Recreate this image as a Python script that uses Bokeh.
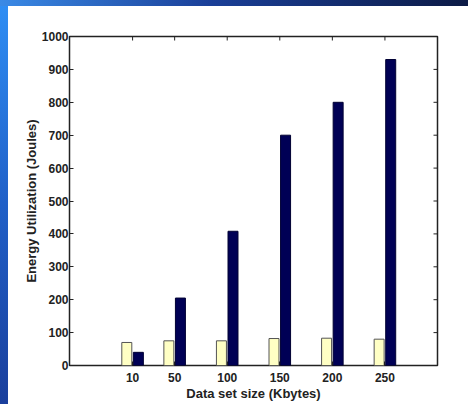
import math
from bokeh.plotting import figure
from bokeh.models import ColumnDataSource, FixedTicker, Range1d
from bokeh.transform import dodge
from bokeh.embed import file_html
from bokeh.resources import INLINE

sizes = [10, 50, 100, 150, 200, 250]
series_a = [70, 75, 75, 82, 83, 80]
series_b = [40, 205, 408, 700, 800, 930]
y_ticks = [0, 100, 200, 300, 400, 500, 600, 700, 800, 900, 1000]

src = ColumnDataSource(dict(x=sizes, a=series_a, b=series_b))

xr = Range1d(-50, 300)
yr = Range1d(0, 1000)
p = figure(width=468, height=404, output_backend="svg", toolbar_location=None,
           x_range=xr, y_range=yr,
           min_border_left=69, min_border_right=31, min_border_top=36, min_border_bottom=39)
p.frame_width = 368
p.frame_height = 329
p.background_fill_color = "white"
p.border_fill_color = None
p.styles = {
    "background": "linear-gradient(90deg, #3a8ae6 0%, #1a3f98 45%, #0c1a45 100%) left top / 100% 6px no-repeat, "
                  "linear-gradient(180deg, #2f8ff5 0%, #2060c8 50%, #1a3f9c 100%) left top / 8px 100% no-repeat, #ffffff"
}
p.outline_line_color = "#222222"
p.outline_line_width = 1.5
p.xgrid.visible = False
p.ygrid.visible = False

p.vbar(x=dodge("x", -5.5, range=p.x_range), top="a", width=9.5, bottom=0, source=src,
       fill_color="#FFFFC4", line_color="#555555", line_width=1)
p.vbar(x=dodge("x", 5.5, range=p.x_range), top="b", width=9.5, bottom=0, source=src,
       fill_color="#000055", line_color="#000033", line_width=1)

# mirrored inward ticks on the top and right edges of the box
p.scatter(x=sizes, y=[yr.end] * len(sizes), marker="dash", size=8, angle=math.pi / 2,
          line_color="#222222", line_width=1)
p.scatter(x=[xr.end] * len(y_ticks), y=y_ticks, marker="dash", size=8,
          line_color="#222222", line_width=1)

font = "Liberation Sans"
for ax in [p.xaxis[0], p.yaxis[0]]:
    ax.major_label_text_font = font
    ax.major_label_text_font_style = "bold"
    ax.major_label_text_font_size = "12px"
    ax.major_label_text_color = "#222222"
    ax.axis_label_text_font = font
    ax.axis_label_text_font_style = "bold"
    ax.axis_label_text_font_size = "13px"
    ax.axis_label_text_color = "#222222"
    ax.axis_line_color = None
    ax.major_tick_in = 4
    ax.major_tick_out = 0
    ax.major_tick_line_color = "#222222"
    ax.minor_tick_line_color = None

p.xaxis[0].ticker = FixedTicker(ticks=sizes)
p.yaxis[0].ticker = FixedTicker(ticks=y_ticks)
p.xaxis[0].axis_label = "Data set size (Kbytes)"
p.yaxis[0].axis_label = "Energy Utilization (Joules)"
p.xaxis[0].major_label_standoff = 7
p.xaxis[0].axis_label_standoff = 1
p.yaxis[0].major_label_standoff = 1
p.yaxis[0].axis_label_standoff = 0

open("out.html", "w").write(file_html(p, INLINE))
